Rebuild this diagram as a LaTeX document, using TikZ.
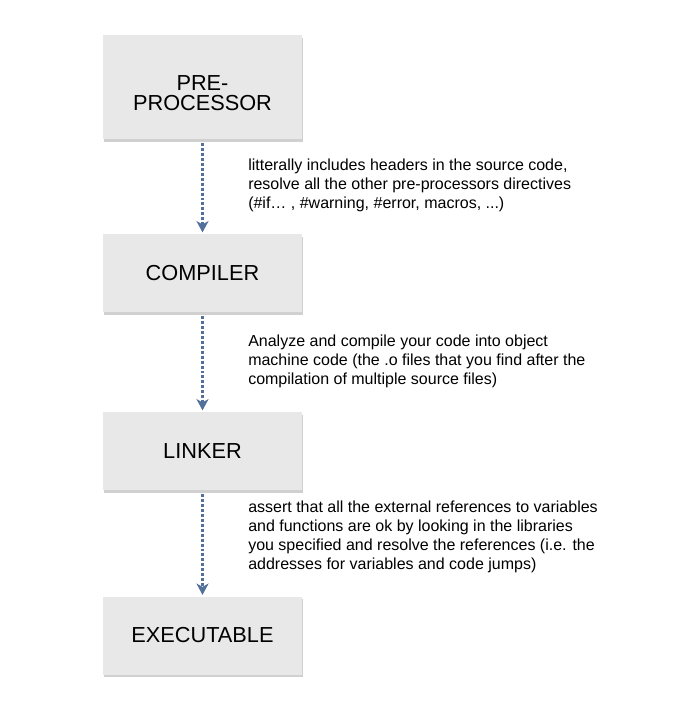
\documentclass[tikz,border=0pt]{standalone}
\usepackage{fontspec}
\setmainfont{Liberation Sans}
\usepackage{xcolor}
\definecolor{boxgray}{rgb}{0.91,0.91,0.91}
\definecolor{flowblue}{rgb}{0.32,0.44,0.60}
\usepackage{tikz}
\usetikzlibrary{calc,positioning,arrows.meta,shadows}
\tikzset{
    stage/.style={
    rectangle,fill=boxgray,draw=none,minimum width=149pt,minimum height=58.5pt,
    align=center,font=\fontsize{16.3}{15.6}\selectfont,
    drop shadow={opacity=0.3,shadow xshift=0.6pt,shadow yshift=-2.2pt,fill=black!60}
    },
    note/.style={
    anchor=north west,inner sep=0pt,align=left,font=\fontsize{12}{14.2}\selectfont
    },
  flow/.style={draw=flowblue, line width=2.1pt, dash pattern=on 2.2pt off 1.5pt,
    -{Stealth[length=8.5pt,width=9pt,inset=2.5pt]}, shorten <=3pt, shorten >=1pt}
}
\begin{document}
\begin{tikzpicture}[x=0.75pt,y=-0.75pt]
    \useasboundingbox[fill=white] (0,0) rectangle (672,720);

    \node[stage,minimum height=78pt,text height=36pt] (pre) at (202.5,87) {PRE-\\PROCESSOR};
    \node[stage] (comp) at (202.5,273) {COMPILER};
    \node[stage] (link) at (202.5,451) {LINKER};
    \node[stage] (exe) at (202.5,635.5) {EXECUTABLE};

    \node[note] (prenote) at (248,159) {litterally includes headers in the source code,\\
      resolve all the other pre-processors directives\\
      (\#if\dots\ , \#warning, \#error, macros, ...)};
    \node[note] (compnote) at (248,335) {Analyze and compile your code into object\\
      machine code (the .o files that you find after the\\
      compilation of multiple source files)};
    \node[note] (linknote) at (248,501) {assert that all the external references to variables\\
      and functions are ok by looking in the libraries\\
      you specified and resolve the references (i.e. the\\
      addresses for variables and code jumps)};

    \begin{scope} [every path/.style=flow]
      \path (pre) -- (comp);
      \path (comp) -- (link);
      \path (link) -- (exe);
    \end{scope}

  \end{tikzpicture}
\end{document}
